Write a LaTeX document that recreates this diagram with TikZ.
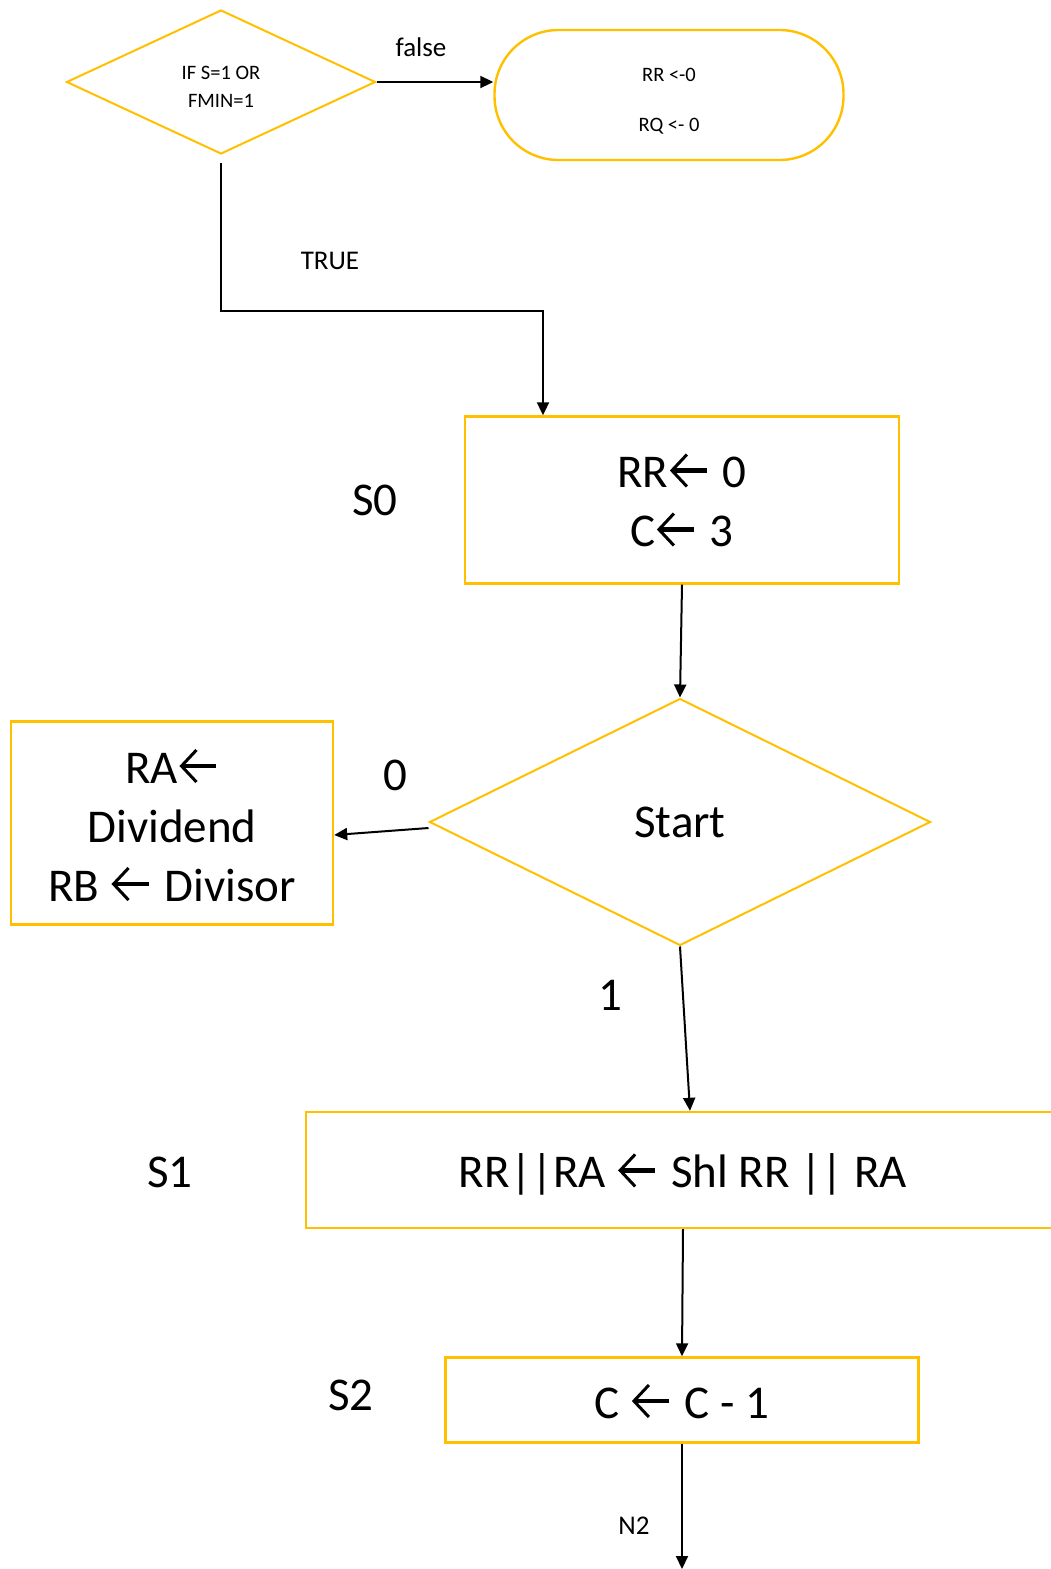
\documentclass[tikz,border=0pt]{standalone}
\usepackage{fontspec}
\setmainfont{Carlito}
\usetikzlibrary{shapes.geometric,arrows.meta,calc}
\definecolor{gold}{HTML}{FFC000}
% assignment arrow drawn as a small inline glyph
\newcommand{\la}{\hspace{2pt}\tikz[baseline=0pt,x=1pt,y=1pt,line cap=butt,line join=miter]{%
  \draw[black,line width=4.5pt] (2,17) -- (36,17);
  \draw[black,line width=3pt] (16,33) -- (1,17) -- (16,1);}\hspace{3pt}}
\begin{document}
\begin{tikzpicture}[x=1pt,y=-1pt,
  every node/.style={text=black, inner sep=0pt},
  box/.style={draw=gold, line width=2.4pt, rectangle, align=center},
  decision/.style={draw=gold, line width=2pt, diamond, align=center},
  arr/.style={draw=black, line width=2pt, -{Triangle[length=13pt,width=12pt]}},
  bigtext/.style={font=\fontsize{47}{59}\selectfont},
  midtext/.style={font=\fontsize{27}{32}\selectfont},
  smalltext/.style={font=\fontsize{20.5}{28}\selectfont}]
\useasboundingbox (0,0) rectangle (1050,1569);

% top decision and reset block
\node[decision, minimum width=309pt, minimum height=144pt] (d1) at (221,82) {};
\node[smalltext, align=center] (d1txt) at (221,87) {IF S=1 OR\\FMIN=1};
\node[box, rounded corners=64pt, minimum width=349pt, minimum height=130pt] (pill) at (669,95) {};
\node[font=\fontsize{20.5}{50}\selectfont, align=center] (pilltxt) at (669,101) {RR <-0\\RQ <- 0};
\draw[arr] (d1.east) -- (d1.east -| pill.west);
\node[midtext] (lfalse) at (421,47) {false};

% state S0
\node[box, minimum width=434pt, minimum height=167pt] (s0) at (682,500) {};
\node[bigtext, align=center] (s0txt) at (682,500) {RR\la{} 0\\C\la{} 3};
\node[bigtext] (ls0) at (375,500) {S0};
\draw[arr] ([yshift=-8pt]d1.south) -- ++(0,148) -| ([xshift=-139pt]s0.north);
\node[midtext] (ltrue) at (330,261) {TRUE};

% start decision
\node[decision, bigtext, minimum width=501pt, minimum height=247pt] (start) at (680,822) {Start};
\draw[arr] (s0.south) -- (start.north);

% load block
\node[box, minimum width=322pt, minimum height=203pt] (load) at (172,823) {};
\node[bigtext, align=center] (loadtxt) at (172,825) {RA\la\\Dividend\\RB \la{} Divisor};
\draw[arr] ([yshift=-6pt]start.west) -- ([yshift=-12pt]load.east);
\node[bigtext] (l0) at (395,775) {0};

% state S1
\node[box, minimum width=754pt, minimum height=116pt] (s1) at (683,1170) {};
\node[bigtext] (s1txt) at (683,1174) {RR||RA \la{} Shl RR || RA};
\node[bigtext] (ls1) at (170,1172) {S1};
\draw[arr] (start.south) -- ([xshift=7pt]s1.north);
\node[bigtext] (l1) at (610,995) {1};

% state S2
\node[box, minimum width=473pt, minimum height=85pt] (s2) at (682,1400) {};
\node[bigtext] (s2txt) at (682,1401) {C \la{} C - 1};
\node[bigtext] (ls2) at (351,1395) {S2};
\draw[arr] (s1.south) -- (s2.north);

% exit towards next state
\coordinate (out) at (682,1569);
\draw[arr] (s2.south) -- (out);
\node[midtext] (ln2) at (634,1526) {N2};
\end{tikzpicture}
\end{document}
